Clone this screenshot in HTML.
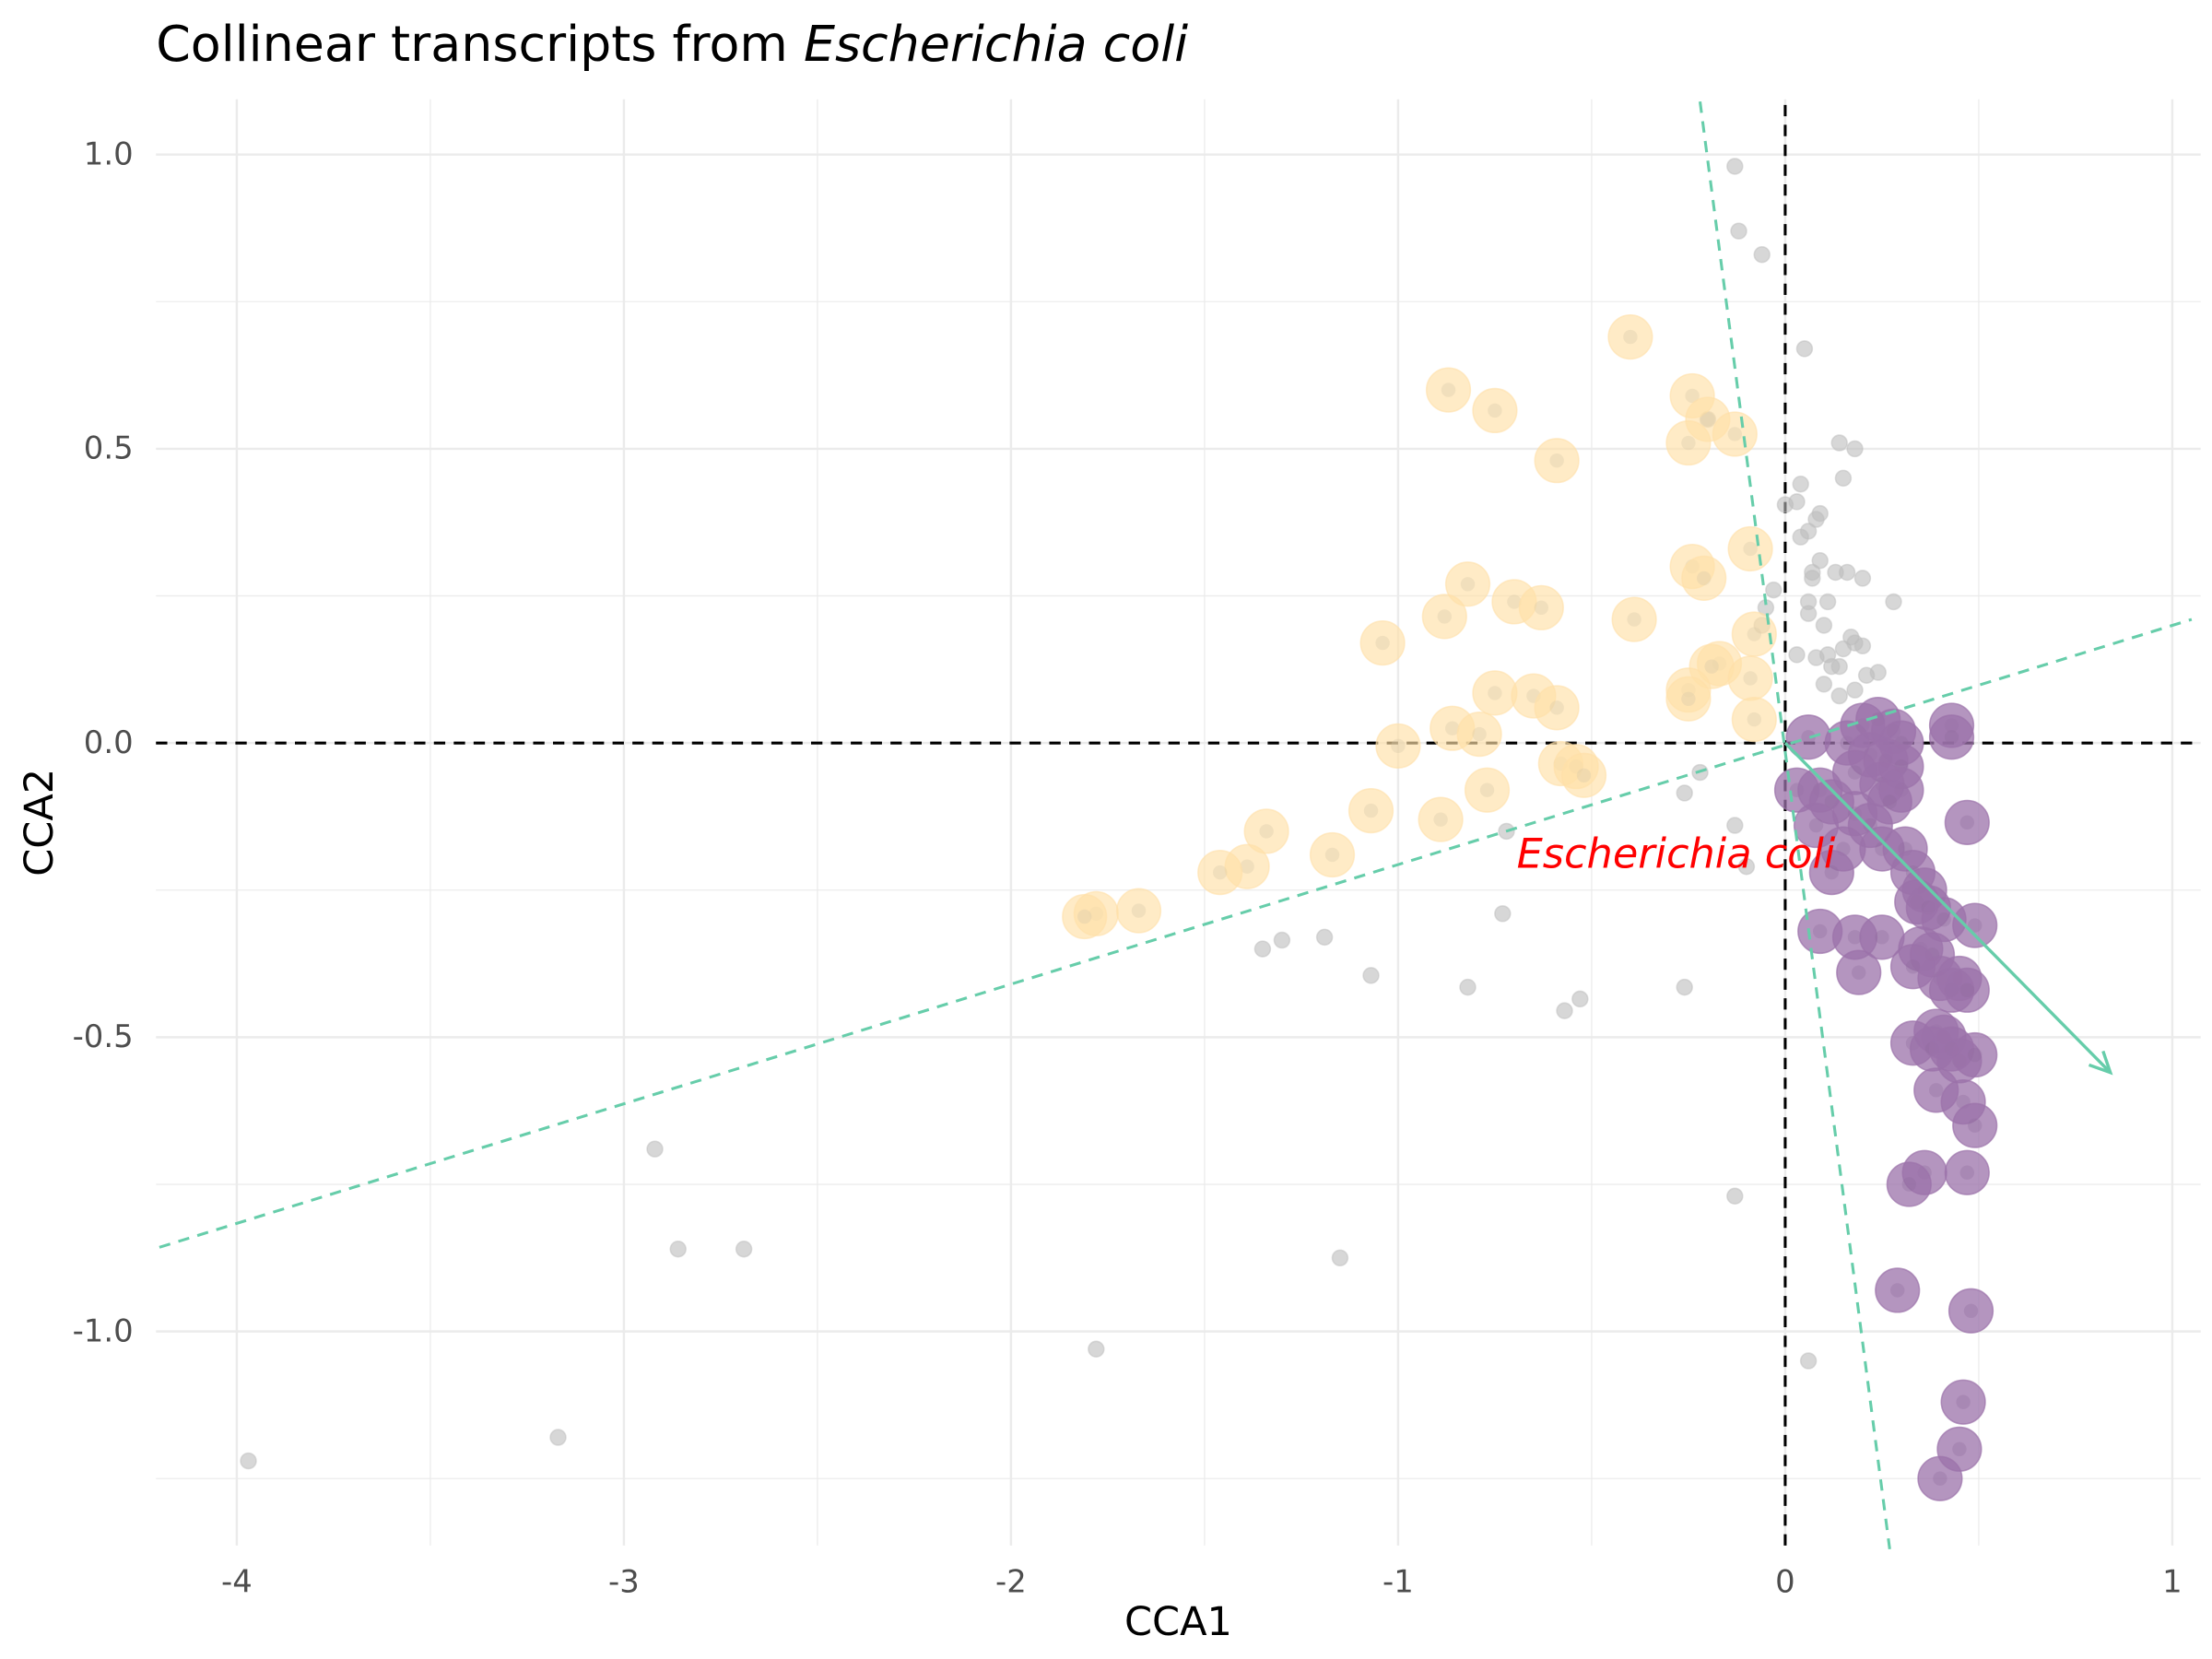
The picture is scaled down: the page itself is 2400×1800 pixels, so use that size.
<!DOCTYPE html>
<html><head><meta charset="utf-8"><style>
html,body{margin:0;padding:0;background:#fff;}
svg{display:block;font-family:"DejaVu Sans","Liberation Sans",sans-serif;}
</style></head><body>
<svg id="chart" width="2400" height="1800" viewBox="0 0 1560 1170" xmlns="http://www.w3.org/2000/svg">
<text x="110" y="43" font-size="35" fill="#000">Collinear transcripts from <tspan font-style="italic">Escherichia coli</tspan></text>
<g id="grid"></g>
<g id="ticks"></g>
<g id="refs"></g>
<g id="pts"></g>
<g id="over"></g>
<text x="831" y="1153" font-size="28" text-anchor="middle">CCA1</text>
<text transform="translate(37,580) rotate(-90)" font-size="28" text-anchor="middle">CCA2</text>
</svg>
<script>
const xTicks=[-4,-3,-2,-1,0,1];
const yTicks=[1.0,0.5,0.0,-0.5,-1.0];
const yTickLabels=["1.0","0.5","0.0","-0.5","-1.0"];
const grayX=[-3.97,-3.17,-2.92,-2.86,-2.69,-1.78,-1.15,-1.35,-1.3,-1.19,-1.07,-0.82,-0.72,-0.73,-0.57,-0.53,-0.26,-0.26,-0.22,-0.13,-0.13,-0.13,-0.12,-0.06,-0.2,-0.06,0.06,0.05,0.18,0.14,0.03,0.0,0.04,0.15,0.08,0.09,0.06,0.04,0.09,0.07,0.07,0.13,0.16,0.2,0.28,0.11,0.06,-0.03,-0.05,0.06,0.1,0.11,0.17,0.15,0.18,0.2,0.12,0.14,0.08,0.03,0.24,0.21,0.1,0.18,0.14,-0.1];
const grayY=[-1.22,-1.18,-0.69,-0.86,-0.86,-1.03,-0.875,-0.35,-0.335,-0.33,-0.395,-0.415,-0.15,-0.29,-0.455,-0.435,-0.415,-0.085,-0.05,-0.14,-0.77,0.98,0.87,0.83,0.55,0.2,-1.05,0.67,0.50,0.51,0.41,0.405,0.44,0.45,0.38,0.39,0.36,0.35,0.31,0.29,0.28,0.29,0.29,0.28,0.24,0.24,0.24,0.26,0.23,0.22,0.2,0.15,0.18,0.16,0.17,0.165,0.13,0.13,0.145,0.15,0.12,0.115,0.1,0.09,0.08,-0.21];
const yellowX=[-0.4,-0.87,-0.75,-0.59,-0.24,-0.2,-0.13,-0.25,-0.09,-0.24,-0.21,-0.82,-0.7,-0.63,-0.88,-0.39,-0.08,-1.04,-0.17,-0.19,-0.09,-0.25,-0.25,-0.75,-0.65,-0.59,-0.08,-0.86,-0.79,-1.0,-0.58,-0.54,-0.52,-0.77,-1.07,-0.89,-1.34,-1.17,-1.39,-1.46,-1.78,-1.81,-1.67];
const yellowY=[0.69,0.6,0.565,0.48,0.59,0.55,0.525,0.51,0.33,0.30,0.28,0.27,0.24,0.23,0.215,0.21,0.185,0.17,0.135,0.13,0.11,0.09,0.075,0.085,0.08,0.06,0.04,0.025,0.015,-0.005,-0.035,-0.04,-0.055,-0.08,-0.115,-0.13,-0.15,-0.19,-0.21,-0.22,-0.29,-0.295,-0.285];
const purpleX=[0.06,0.16,0.2,0.24,0.28,0.3,0.43,0.43,0.22,0.26,0.3,0.18,0.25,0.3,0.03,0.09,0.12,0.18,0.27,0.22,0.08,0.15,0.25,0.31,0.12,0.33,0.36,0.34,0.37,0.41,0.47,0.09,0.18,0.25,0.35,0.38,0.33,0.4,0.45,0.43,0.19,0.49,0.47,0.39,0.41,0.33,0.38,0.43,0.45,0.49,0.39,0.46,0.49,0.36,0.47,0.32,0.29,0.48,0.46,0.45,0.4];
const purpleY=[0.01,0.0,0.03,0.04,0.02,0.0,0.03,0.01,-0.02,-0.03,-0.04,-0.05,-0.07,-0.08,-0.08,-0.08,-0.1,-0.12,-0.1,-0.14,-0.14,-0.18,-0.18,-0.18,-0.22,-0.22,-0.25,-0.27,-0.28,-0.3,-0.135,-0.32,-0.33,-0.33,-0.35,-0.36,-0.38,-0.4,-0.4,-0.42,-0.39,-0.31,-0.42,-0.49,-0.5,-0.51,-0.52,-0.52,-0.54,-0.53,-0.59,-0.61,-0.65,-0.73,-0.73,-0.75,-0.93,-0.965,-1.12,-1.2,-1.25];
const arrowEnd=[0.84,-0.56];
const axisA=[-4.2,-0.857,1.05,0.21];
const axisB=[-0.22,1.09,0.27,-1.37];

const NS="http://www.w3.org/2000/svg";
const L=110,R=1552,T=70,B=1090;
const sx=v=>1259+273*v, sy=v=>524-415*v;
function mk(tag,attrs,parent){const e=document.createElementNS(NS,tag);for(const k in attrs)e.setAttribute(k,attrs[k]);parent.appendChild(e);return e;}
const grid=document.getElementById('grid'),ticks=document.getElementById('ticks');
for(let v=-4;v<=1.001;v+=0.5){const maj=Math.abs(v-Math.round(v))<1e-6;
 const e=mk('line',{x1:sx(v),x2:sx(v),y1:T,y2:B,stroke:'#ebebeb','stroke-width':maj?1.6:0.8},grid);
 
 }
for(let v=-1.25;v<=1.001;v+=0.25){const maj=Math.abs(v*2-Math.round(v*2))<1e-6;
 const e=mk('line',{x1:L,x2:R,y1:sy(v),y2:sy(v),stroke:'#ebebeb','stroke-width':maj?1.6:0.8},grid);
 
 }
xTicks.forEach(v=>{const t=mk('text',{x:sx(v),y:1123,'font-size':22,fill:'#4d4d4d','text-anchor':'middle'},ticks);t.textContent=String(v);
 
 });
yTicks.forEach((v,i)=>{const t=mk('text',{x:94,y:sy(v)+7,'font-size':22,fill:'#4d4d4d','text-anchor':'end'},ticks);t.textContent=yTickLabels[i];
 
 });
const refs=document.getElementById('refs');
let h=mk('line',{x1:L,x2:R,y1:sy(0),y2:sy(0),stroke:'#000','stroke-width':2,'stroke-dasharray':'8 6'},refs);


let vl=mk('line',{x1:sx(0),x2:sx(0),y1:T+4,y2:B,stroke:'#000','stroke-width':2,'stroke-dasharray':'8 6'},refs);


const pts=document.getElementById('pts');
grayX.forEach((x,i)=>{const c=mk('circle',{cx:sx(x),cy:sy(grayY[i]),r:5.5,fill:'#bdbdbd','fill-opacity':0.6,stroke:'#bdbdbd','stroke-opacity':0.5},pts);
 
 });
yellowX.forEach((x,i)=>{const g=mk('g',{},pts);
 
 
 mk('circle',{cx:sx(x),cy:sy(yellowY[i]),r:15.5,fill:'#ffe0a8','fill-opacity':0.65,stroke:'#ffe0a8','stroke-opacity':0.6,'stroke-width':1},g);
 mk('circle',{cx:sx(x),cy:sy(yellowY[i]),r:5,fill:'#d8c9a8','fill-opacity':0.35},g);});
purpleX.forEach((x,i)=>{const g=mk('g',{},pts);
 
 
 mk('circle',{cx:sx(x),cy:sy(purpleY[i]),r:15.5,fill:'#9b72aa','fill-opacity':0.75,stroke:'#9b72aa','stroke-opacity':0.7,'stroke-width':1},g);
 mk('circle',{cx:sx(x),cy:sy(purpleY[i]),r:5,fill:'#8e6a9c','fill-opacity':0.3},g);});
const over=document.getElementById('over');
let a1=mk('line',{x1:sx(axisA[0]),y1:sy(axisA[1]),x2:sx(axisA[2]),y2:sy(axisA[3]),stroke:'#66cdaa','stroke-width':2,'stroke-dasharray':'8 6'},over);


let a2=mk('line',{x1:sx(axisB[0]),y1:sy(axisB[1]),x2:sx(axisB[2]),y2:sy(axisB[3]),stroke:'#66cdaa','stroke-width':2,'stroke-dasharray':'8 6'},over);


const ex=sx(arrowEnd[0]),ey=sy(arrowEnd[1]),ox=sx(0),oy=sy(0);
let ar=mk('line',{x1:ox,y1:oy,x2:ex,y2:ey,stroke:'#66cdaa','stroke-width':2.2},over);


const ang=Math.atan2(ey-oy,ex-ox),hl=16;
let hd=mk('polyline',{points:`${ex-hl*Math.cos(ang-0.45)},${ey-hl*Math.sin(ang-0.45)} ${ex},${ey} ${ex-hl*Math.cos(ang+0.45)},${ey-hl*Math.sin(ang+0.45)}`,fill:'none',stroke:'#66cdaa','stroke-width':2.2},over);


let lb=mk('text',{x:1182,y:612,'font-size':29,fill:'#ff0000','font-style':'italic','text-anchor':'middle'},over);
lb.textContent='Escherichia coli';


</script>
</body></html>
